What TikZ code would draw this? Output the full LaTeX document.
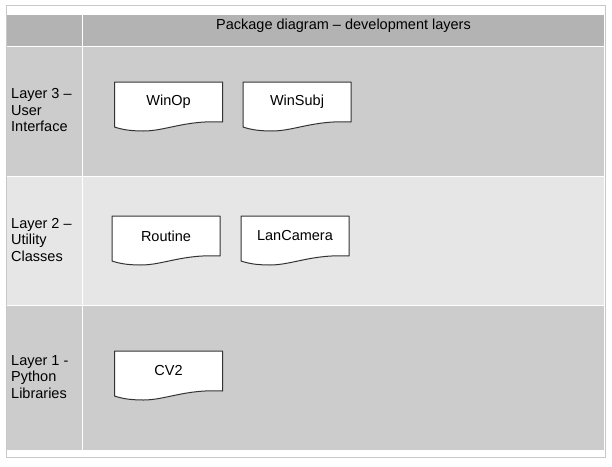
\documentclass[tikz,border=0pt]{standalone}
\usepackage{fontspec}
\setmainfont{Liberation Sans}
\usetikzlibrary{calc}
\definecolor{hdr}{HTML}{B3B3B3}
\definecolor{rowA}{HTML}{CCCCCC}
\definecolor{rowB}{HTML}{E6E6E6}
\definecolor{frameC}{HTML}{C8C8C8}
\definecolor{docline}{HTML}{333333}
\definecolor{txt}{HTML}{000000}
\newcommand{\docpkg}[4]{%
  \path[docshape] (#2,#3) -- ($(#2,#3)+(108,0)$) -- ($(#2,#3)+(108,40)$)
    .. controls ($(#2,#3)+(71,38)$) and ($(#2,#3)+(51,49)$) .. ($(#2,#3)+(29,49)$)
    .. controls ($(#2,#3)+(14,49)$) and ($(#2,#3)+(6,47)$) .. ($(#2,#3)+(0,45)$) -- cycle;
  \node[doc] (#1) at (#2,#3) {#4};
}
\begin{document}
\begin{tikzpicture}[x=1pt,y=-1pt,
  cell/.style={draw=none,inner sep=0pt,outer sep=0pt,anchor=north west},
  doc/.style={inner sep=0pt,outer sep=0pt,minimum width=108pt,minimum height=40pt,anchor=north west,text=txt,font=\fontsize{14.5}{16.5}\selectfont},
  docshape/.style={draw=docline,line width=1pt,fill=white,line join=round},
  lbl/.style={anchor=west,align=left,inner sep=0pt,text=txt,font=\fontsize{14.5}{16.5}\selectfont},
]
\useasboundingbox (0,0) rectangle (612,466);
\fill[white] (0,0) rectangle (612,466);
\node[cell,draw=frameC,fill=white,line width=1pt,minimum width=599pt,minimum height=452pt] (frame) at (6,5) {};
% header
\node[cell,fill=hdr,minimum width=75pt,minimum height=30.5pt] (h0) at (7,15) {};
\node[cell,fill=hdr,minimum width=520.5pt,minimum height=30.5pt] (h1) at (83,15) {};
% row layer 3
\node[cell,fill=rowA,minimum width=75pt,minimum height=129pt] (r3a) at (7,46.5) {};
\node[cell,fill=rowA,minimum width=520.5pt,minimum height=129pt] (r3b) at (83,46.5) {};
% row layer 2
\node[cell,fill=rowB,minimum width=75pt,minimum height=128pt] (r2a) at (7,176.5) {};
\node[cell,fill=rowB,minimum width=520.5pt,minimum height=128pt] (r2b) at (83,176.5) {};
% row layer 1
\node[cell,fill=rowA,minimum width=75pt,minimum height=144pt] (r1a) at (7,305.5) {};
\node[cell,fill=rowA,minimum width=520.5pt,minimum height=144pt] (r1b) at (83,305.5) {};
% title
\node[text=txt,inner sep=0pt,font=\fontsize{14.5}{16.5}\selectfont] (title) at (343.5,26) {Package diagram – development layers};
% layer labels
\node[lbl] (l3) at (11,110.5) {Layer 3 –\\User\\Interface};
\node[lbl] (l2) at (11,240) {Layer 2 –\\Utility\\Classes};
\node[lbl] (l1) at (11,377) {Layer 1 -\\Python\\Libraries};
% packages
\docpkg{winop}{114.5}{82}{WinOp}
\docpkg{winsubj}{243}{82}{WinSubj}
\docpkg{routine}{112}{216}{Routine}
\docpkg{lancamera}{241}{216}{LanCamera}
\docpkg{cvtwo}{114.5}{351}{CV2}
\end{tikzpicture}
\end{document}
